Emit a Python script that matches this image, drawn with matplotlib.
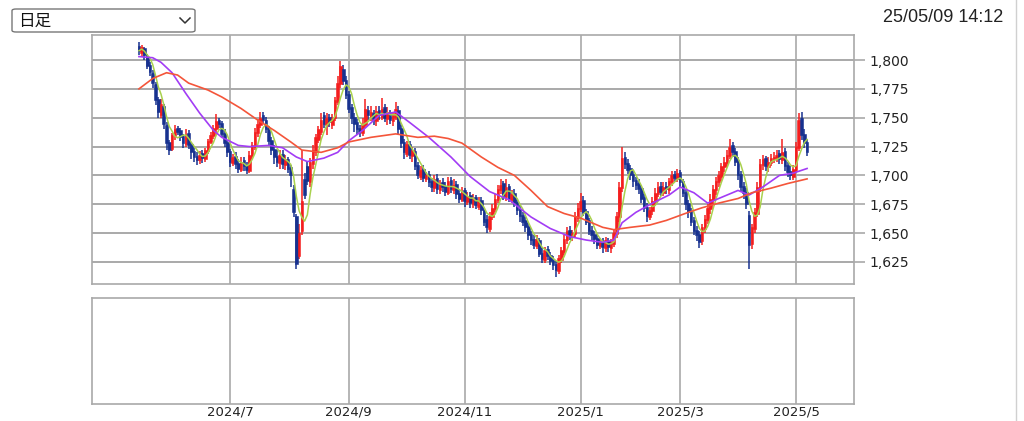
import matplotlib
matplotlib.use("Agg")
import matplotlib.pyplot as plt
from matplotlib.patches import FancyBboxPatch
from matplotlib.lines import Line2D
import numpy as np
import pandas as pd

# daily candles, one per trading day (2024/5 .. 2025/5/9)
opens = [1812, 1806, 1810, 1803, 1796, 1789, 1779, 1766, 1752, 1760,
         1744, 1729, 1723, 1734, 1741, 1739, 1734, 1727, 1737, 1727,
         1721, 1717, 1713, 1719, 1714, 1721, 1729, 1734, 1740, 1748,
         1745, 1737, 1729, 1721, 1711, 1717, 1711, 1705, 1713, 1709,
         1704, 1717, 1725, 1737, 1744, 1752, 1748, 1741, 1731, 1723,
         1717, 1711, 1719, 1709, 1714, 1707, 1688, 1665, 1630, 1652,
         1697, 1708, 1694, 1710, 1720, 1731, 1738, 1752, 1744, 1751,
         1744, 1750, 1764, 1779, 1792, 1783, 1771, 1759, 1751, 1746,
         1741, 1737, 1744, 1757, 1751, 1754, 1747, 1757, 1751, 1759,
         1749, 1754, 1747, 1751, 1757, 1741, 1729, 1719, 1727, 1717,
         1721, 1709, 1699, 1706, 1697, 1701, 1695, 1689, 1698, 1687,
         1694, 1691, 1685, 1696, 1687, 1693, 1685, 1679, 1687, 1677,
         1683, 1675, 1681, 1673, 1679, 1670, 1662, 1654, 1664, 1671,
         1679, 1687, 1693, 1681, 1691, 1679, 1685, 1677, 1671, 1666,
         1661, 1656, 1649, 1645, 1639, 1644, 1633, 1627, 1636, 1631,
         1627, 1623, 1617, 1627, 1634, 1644, 1653, 1647, 1649, 1663,
         1671, 1679, 1669, 1661, 1653, 1649, 1646, 1639, 1643, 1637,
         1643, 1637, 1641, 1649, 1664, 1689, 1716, 1711, 1706, 1701,
         1696, 1693, 1689, 1681, 1673, 1664, 1669, 1677, 1684, 1691,
         1685, 1691, 1687, 1694, 1701, 1697, 1703, 1695, 1686, 1676,
         1669, 1661, 1653, 1649, 1643, 1654, 1661, 1671, 1679, 1687,
         1694, 1699, 1707, 1711, 1717, 1726, 1721, 1713, 1701, 1691,
         1686, 1666, 1641, 1654, 1667, 1689, 1709, 1715, 1707, 1711,
         1714, 1715, 1719, 1713, 1721, 1709, 1704, 1699, 1705, 1724,
         1750, 1736, 1729]
highs = [1816, 1813, 1811, 1805, 1798, 1791, 1781, 1768, 1766, 1762,
         1746, 1731, 1737, 1744, 1743, 1741, 1736, 1740, 1739, 1729,
         1724, 1720, 1721, 1722, 1724, 1732, 1738, 1744, 1753, 1750,
         1747, 1740, 1731, 1723, 1719, 1720, 1714, 1716, 1716, 1712,
         1721, 1729, 1741, 1749, 1755, 1755, 1751, 1743, 1733, 1726,
         1722, 1722, 1722, 1718, 1716, 1709, 1692, 1667, 1658, 1722,
         1702, 1712, 1715, 1726, 1736, 1743, 1754, 1755, 1754, 1753,
         1753, 1768, 1786, 1799, 1796, 1786, 1773, 1762, 1754, 1749,
         1744, 1750, 1766, 1760, 1760, 1757, 1760, 1760, 1767, 1762,
         1759, 1757, 1755, 1764, 1760, 1744, 1732, 1730, 1730, 1725,
         1724, 1712, 1708, 1709, 1703, 1704, 1698, 1700, 1701, 1696,
         1698, 1694, 1699, 1699, 1697, 1695, 1688, 1690, 1689, 1686,
         1686, 1684, 1683, 1681, 1681, 1672, 1666, 1668, 1675, 1684,
         1692, 1697, 1695, 1697, 1693, 1687, 1688, 1679, 1674, 1668,
         1664, 1659, 1652, 1648, 1648, 1646, 1637, 1638, 1639, 1634,
         1630, 1626, 1631, 1638, 1648, 1655, 1656, 1653, 1668, 1676,
         1685, 1682, 1671, 1663, 1656, 1652, 1649, 1646, 1646, 1647,
         1646, 1645, 1653, 1668, 1694, 1725, 1720, 1714, 1709, 1704,
         1699, 1697, 1692, 1684, 1676, 1673, 1681, 1689, 1694, 1694,
         1694, 1694, 1698, 1704, 1704, 1706, 1705, 1697, 1688, 1679,
         1672, 1664, 1656, 1652, 1658, 1666, 1675, 1684, 1692, 1699,
         1704, 1711, 1716, 1722, 1732, 1729, 1724, 1716, 1704, 1694,
         1689, 1669, 1658, 1672, 1694, 1714, 1718, 1717, 1716, 1719,
         1720, 1722, 1722, 1732, 1724, 1712, 1708, 1709, 1729, 1754,
         1755, 1740, 1732]
lows = [1804, 1803, 1800, 1792, 1786, 1776, 1761, 1750, 1750, 1740,
        1722, 1718, 1721, 1731, 1735, 1730, 1724, 1725, 1723, 1714,
        1712, 1709, 1710, 1711, 1712, 1719, 1727, 1732, 1738, 1741,
        1733, 1725, 1716, 1707, 1708, 1706, 1702, 1703, 1704, 1701,
        1702, 1714, 1722, 1733, 1741, 1745, 1737, 1726, 1718, 1710,
        1707, 1706, 1706, 1705, 1702, 1690, 1664, 1619, 1628, 1648,
        1680, 1692, 1690, 1706, 1717, 1728, 1735, 1741, 1735, 1742,
        1740, 1747, 1761, 1776, 1778, 1766, 1754, 1745, 1738, 1735,
        1733, 1734, 1741, 1748, 1747, 1744, 1743, 1748, 1748, 1746,
        1744, 1745, 1743, 1748, 1736, 1724, 1714, 1716, 1714, 1712,
        1705, 1697, 1696, 1694, 1694, 1690, 1686, 1686, 1684, 1684,
        1686, 1682, 1683, 1685, 1684, 1680, 1676, 1677, 1673, 1674,
        1672, 1672, 1671, 1670, 1666, 1656, 1650, 1651, 1661, 1668,
        1676, 1684, 1679, 1678, 1677, 1676, 1673, 1666, 1660, 1656,
        1651, 1644, 1640, 1636, 1636, 1629, 1624, 1624, 1627, 1622,
        1618, 1612, 1615, 1624, 1631, 1641, 1644, 1643, 1646, 1660,
        1668, 1665, 1657, 1648, 1644, 1641, 1636, 1636, 1633, 1634,
        1634, 1633, 1638, 1646, 1660, 1686, 1706, 1701, 1696, 1690,
        1687, 1684, 1676, 1668, 1660, 1661, 1666, 1674, 1681, 1682,
        1682, 1684, 1684, 1691, 1694, 1694, 1690, 1681, 1670, 1663,
        1656, 1648, 1643, 1637, 1640, 1650, 1658, 1667, 1675, 1683,
        1690, 1695, 1703, 1707, 1714, 1716, 1708, 1696, 1686, 1680,
        1671, 1619, 1636, 1650, 1664, 1686, 1705, 1704, 1703, 1708,
        1711, 1712, 1710, 1710, 1704, 1699, 1696, 1696, 1702, 1721,
        1731, 1724, 1717]
closes = [1808, 1811, 1804, 1795, 1790, 1780, 1765, 1755, 1762, 1745,
          1728, 1722, 1735, 1740, 1738, 1733, 1728, 1736, 1726, 1720,
          1716, 1713, 1718, 1715, 1722, 1730, 1735, 1741, 1747, 1745,
          1736, 1728, 1720, 1712, 1716, 1710, 1706, 1712, 1708, 1705,
          1718, 1726, 1738, 1745, 1750, 1748, 1740, 1730, 1722, 1716,
          1712, 1718, 1710, 1714, 1706, 1700, 1668, 1623, 1650, 1678,
          1683, 1695, 1712, 1722, 1733, 1740, 1748, 1745, 1750, 1746,
          1750, 1765, 1780, 1795, 1782, 1770, 1758, 1750, 1745, 1740,
          1738, 1745, 1758, 1752, 1755, 1748, 1756, 1752, 1758, 1750,
          1755, 1748, 1752, 1758, 1740, 1728, 1720, 1727, 1718, 1722,
          1708, 1700, 1705, 1698, 1700, 1694, 1690, 1697, 1688, 1693,
          1690, 1686, 1695, 1688, 1692, 1684, 1680, 1686, 1678, 1682,
          1676, 1680, 1674, 1678, 1670, 1660, 1655, 1665, 1672, 1680,
          1688, 1692, 1682, 1690, 1680, 1684, 1676, 1670, 1665, 1660,
          1655, 1648, 1644, 1640, 1645, 1632, 1628, 1635, 1630, 1626,
          1622, 1618, 1628, 1635, 1645, 1652, 1648, 1650, 1665, 1672,
          1678, 1668, 1660, 1652, 1648, 1645, 1640, 1642, 1638, 1644,
          1638, 1642, 1650, 1665, 1690, 1715, 1710, 1705, 1700, 1695,
          1692, 1688, 1680, 1672, 1665, 1670, 1678, 1685, 1690, 1686,
          1690, 1688, 1695, 1700, 1698, 1702, 1694, 1685, 1675, 1668,
          1660, 1652, 1648, 1642, 1655, 1662, 1672, 1680, 1688, 1695,
          1700, 1708, 1712, 1718, 1725, 1720, 1712, 1700, 1690, 1685,
          1675, 1640, 1655, 1668, 1690, 1710, 1714, 1708, 1712, 1715,
          1716, 1718, 1714, 1720, 1708, 1703, 1700, 1706, 1725, 1748,
          1735, 1728, 1720]

# 25-day and 75-day averages (trading-day index, price)
ma25_idx = [0, 5, 8, 12, 17, 22, 27, 30, 36, 40, 47, 52, 57, 61, 67, 72, 76, 81,
            87, 93, 98, 105, 113, 120, 127, 134, 142, 149, 156, 162, 168, 172,
            175, 180, 186, 192, 196, 201, 206, 210, 217, 221, 226, 232, 237, 242]
ma25_val = [1803, 1802, 1798, 1789, 1771, 1754, 1739, 1733, 1726, 1725, 1726,
            1724, 1716, 1712, 1715, 1720, 1730, 1739, 1752, 1755, 1746, 1733,
            1716, 1699, 1686, 1679, 1664, 1654, 1647, 1644, 1642, 1644, 1659,
            1668, 1676, 1683, 1690, 1685, 1676, 1680, 1687, 1683, 1690, 1700,
            1702, 1706]
ma75_idx = [0, 5, 10, 14, 18, 25, 30, 37, 43, 49, 55, 59, 66, 72, 76, 84, 93,
            101, 107, 112, 117, 124, 130, 136, 142, 148, 154, 160, 168, 172,
            178, 185, 191, 199, 204, 210, 217, 222, 229, 235, 242]
ma75_val = [1775, 1784, 1789, 1787, 1780, 1774, 1768, 1758, 1748, 1739, 1729,
            1722, 1720, 1724, 1729, 1733, 1736, 1733, 1734, 1732, 1728, 1716,
            1707, 1700, 1687, 1673, 1667, 1663, 1655, 1653, 1655, 1657, 1661,
            1668, 1672, 1676, 1680, 1685, 1689, 1693, 1697]

tick_idx = [33, 76, 118, 160, 196, 238]
tick_labels = ["2024/7", "2024/9", "2024/11", "2025/1", "2025/3", "2025/5"]
price_ticks = [1625, 1650, 1675, 1700, 1725, 1750, 1775, 1800]

UP = "#f41e1e"
DOWN = "#17318f"
GRID = "#a9a9a9"

fig = plt.figure(figsize=(10.24, 4.21), dpi=100)
ax = fig.add_axes([92 / 1024, 1 - 284 / 421, 762 / 1024, 249 / 421])
ax2 = fig.add_axes([92 / 1024, 1 - 404 / 421, 762 / 1024, 106 / 421])

x = np.arange(len(closes))
o = np.array(opens)
c = np.array(closes)
h = np.array(highs)
l = np.array(lows)
cols = np.where(c >= o, UP, DOWN)

ax.vlines(x, l, h, colors=cols, linewidth=1.1, zorder=3)
ax.bar(x, np.maximum(np.abs(c - o), 0.8), bottom=np.minimum(o, c), width=0.95,
       color=cols, edgecolor=cols, linewidth=0.4, zorder=3)

ma5 = pd.Series(closes).rolling(5, min_periods=1).mean()
ax.plot(x, ma5, color="#a9d14e", lw=1.1, zorder=4)
ax.plot(ma25_idx, ma25_val, color="#a23cf5", lw=1.2, zorder=4)
ax.plot(ma75_idx, ma75_val, color="#f4553a", lw=1.2, zorder=4)

for a in (ax, ax2):
    a.set_xlim(-17, 259)
    for s in a.spines.values():
        s.set_color(GRID)
        s.set_linewidth(1.2)
    for t in tick_idx:
        a.axvline(t, color=GRID, lw=1.2, zorder=1)

ax.set_ylim(1605.9, 1821.7)
for p in price_ticks:
    ax.axhline(p, color=GRID, lw=1.4, zorder=1)
ax.yaxis.tick_right()
ax.set_yticks(price_ticks)
ax.set_yticklabels([f"{p:,}" for p in price_ticks])
ax.tick_params(axis="y", length=8, width=1.2, color=GRID, pad=3,
               labelsize=10, labelcolor="#222222")
ax.set_xticks([])

ax2.set_ylim(0, 1)
ax2.set_yticks([])
ax2.set_xticks(tick_idx)
ax2.set_xticklabels(tick_labels)
ax2.tick_params(axis="x", length=0, pad=1, labelsize=9.5, labelcolor="#222222")

# dropdown box and timestamp
box = FancyBboxPatch((12 / 1024, 1 - 32 / 421), 183 / 1024, 23 / 421,
                     boxstyle="round,pad=0,rounding_size=0.004",
                     transform=fig.transFigure, fc="white", ec="#777777", lw=1.0)
fig.patches.append(box)
fig.text(18 / 1024, 1 - 21 / 421, "日足", fontsize=12, va="center",
         family=["Noto Sans CJK JP", "DejaVu Sans"], color="#111111")
fig.lines.append(Line2D([180 / 1024, 185 / 1024, 190 / 1024],
                        [1 - 18 / 421, 1 - 23 / 421, 1 - 18 / 421],
                        transform=fig.transFigure, color="#333333", lw=1.1))
fig.text(1003 / 1024, 1 - 18 / 421, "25/05/09 14:12", fontsize=13, ha="right",
         va="center", family="Liberation Sans", color="#222222")
fig.lines.append(Line2D([1016 / 1024, 1016 / 1024], [0, 1],
                        transform=fig.transFigure, color="#d0d0d0", lw=1.0))

fig.savefig("out.png", dpi=100)
